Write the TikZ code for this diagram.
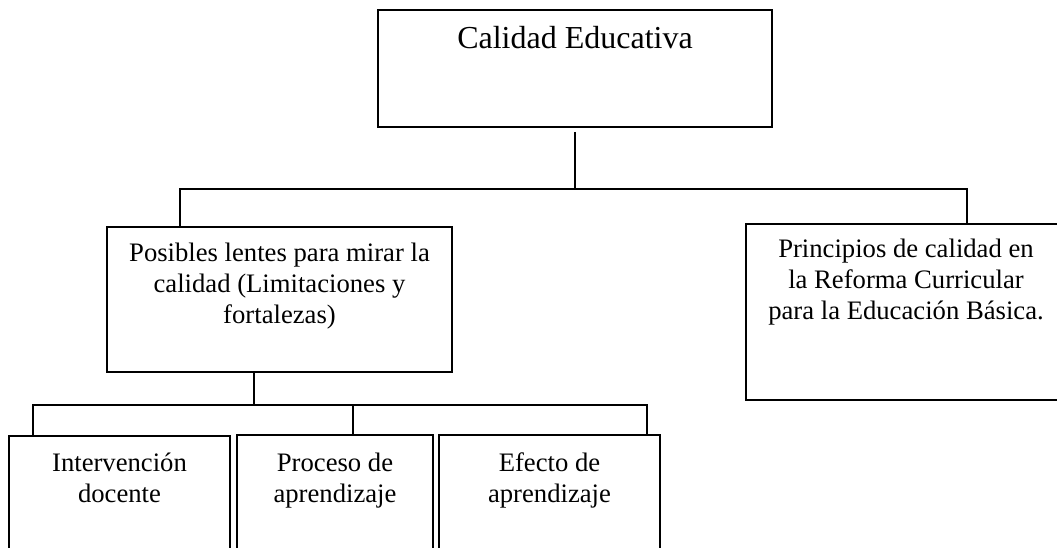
\documentclass[tikz,border=0pt]{standalone}
\usepackage{fontspec}
\setmainfont{Liberation Serif}
\begin{document}
\begin{tikzpicture}[x=.75pt,y=-.75pt,line width=1.5pt]
      \useasboundingbox (0,0) rectangle (1057,548);

      \begin{scope}[every node/.style={draw,rectangle,anchor=north west,inner sep=0pt,
          font=\fontsize{20}{23.25}\selectfont}]
        \node (1) at (377,9)   {\parbox[t][87.75pt][t]{295.5pt}{\centering\fontsize{24}{28}\selectfont
            \rule{0pt}{29.25pt}Calidad Educativa}};
        \node (2) at (106,226) {\parbox[t][108.75pt][t]{258.75pt}{\centering
            \rule{0pt}{26.25pt}Posibles lentes para mirar la\\ calidad (Limitaciones y\\ fortalezas)}};
        \node (3) at (745,223) {\parbox[t][132pt][t]{240pt}{\centering
            \rule{0pt}{25.5pt}Principios de calidad en\\ la Reforma Curricular\\ para la Educación Básica.}};
        \node (4) at (8,435)   {\parbox[t][94.5pt][t]{165.75pt}{\centering
            \rule{0pt}{27pt}Intervención\\ docente}};
        \node (5) at (236,434) {\parbox[t][94.5pt][t]{147pt}{\centering
            \rule{0pt}{27.75pt}Proceso de\\ aprendizaje}};
        \node (6) at (438,434) {\parbox[t][94.5pt][t]{165.75pt}{\centering
            \rule{0pt}{27.75pt}Efecto de\\ aprendizaje}};
      \end{scope}

      \coordinate (a1) at (180,189);
      \coordinate (a2) at (967,189);
      \coordinate (b0) at (254,405);
      \coordinate (b1) at (33,405);
      \coordinate (b2) at (353,405);
      \coordinate (b3) at (647,405);

      \draw ([yshift=-3pt]1.south) -- (1.south |- a1);
      \draw (a1 |- 2.north) -- (a1) -- (a2) -- (a2 |- 3.north);
      \draw (b0 |- 2.south) -- (b0);
      \draw (b1 |- 4.north) -- (b1) -- (b3) -- (b3 |- 6.north);
      \draw (b2) -- (b2 |- 5.north);

    \end{tikzpicture}
\end{document}
